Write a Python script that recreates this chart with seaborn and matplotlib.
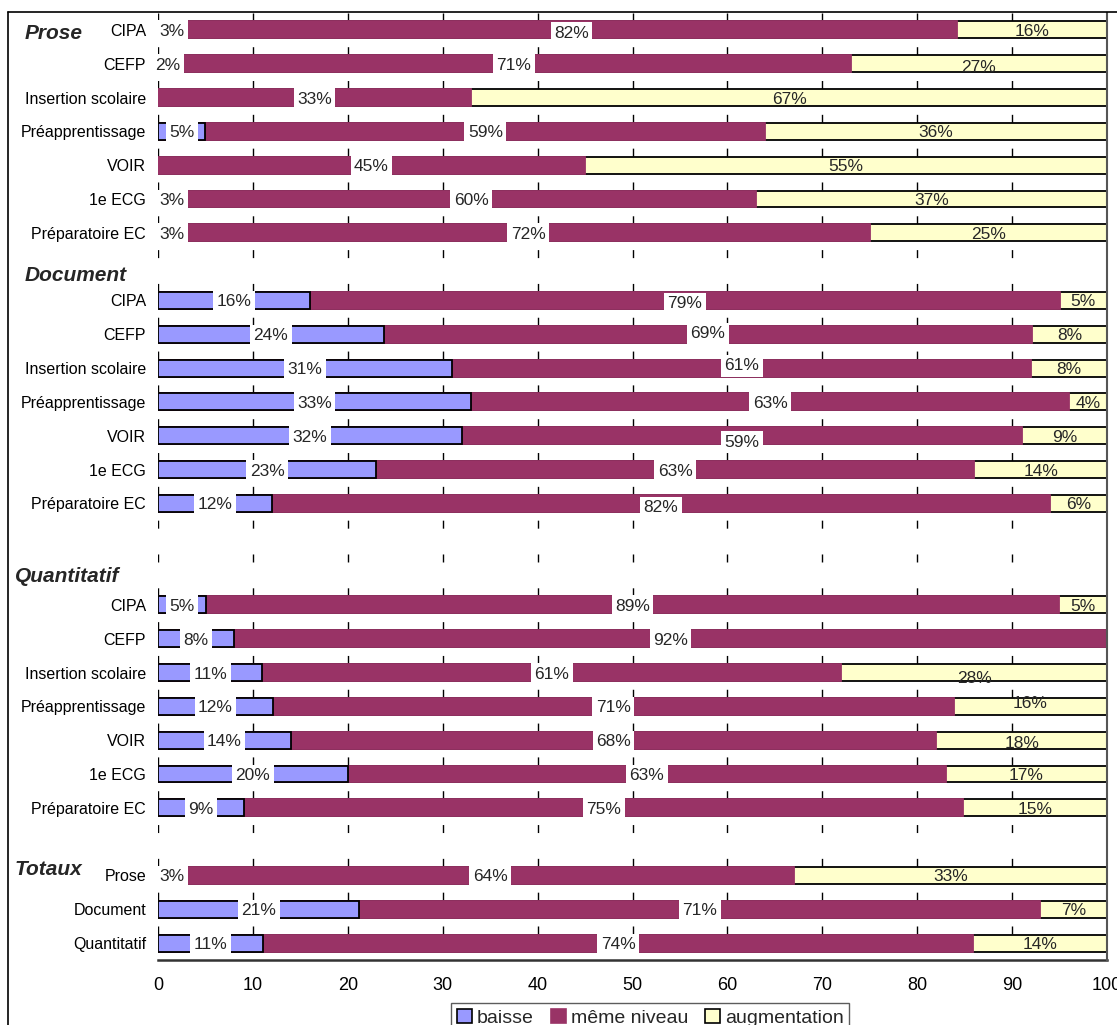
import numpy as np
import pandas as pd
import matplotlib
matplotlib.use("Agg")
import matplotlib.pyplot as plt
import matplotlib.transforms as mtransforms
from matplotlib.lines import Line2D
from matplotlib.patches import Patch
import seaborn as sns

# ---------------- data ----------------
groups = ["Prose", "Document", "Quantitatif", "Totaux"]
schools = ["CIPA", "CEFP", "Insertion scolaire", "Préapprentissage",
           "VOIR", "1e ECG", "Préparatoire EC"]
total_rows = ["Prose", "Document", "Quantitatif"]
series = ["baisse", "même niveau", "augmentation"]

prose_baisse = [3, 2, 0, 5, 0, 3, 3]
prose_meme = [82, 71, 33, 59, 45, 60, 72]
prose_augm = [16, 27, 67, 36, 55, 37, 25]

doc_baisse = [16, 24, 31, 33, 32, 23, 12]
doc_meme = [79, 69, 61, 63, 59, 63, 82]
doc_augm = [5, 8, 8, 4, 9, 14, 6]

quant_baisse = [5, 8, 11, 12, 14, 20, 9]
quant_meme = [89, 92, 61, 71, 68, 63, 75]
quant_augm = [5, 0, 28, 16, 18, 17, 15]

tot_baisse = [3, 21, 11]
tot_meme = [64, 71, 74]
tot_augm = [33, 7, 14]

x_ticks = [0, 10, 20, 30, 40, 50, 60, 70, 80, 90, 100]

# ---------------- styling ----------------
BLUE = "#9999FF"
PLUM = "#993366"
YELLOW = "#FFFFCC"
W, H = 1117, 1025

# small vertical nudges (pixels, positive = down) of some value labels
label_nudge = {
    ("Document|CIPA", "m"): 2, ("Document|CEFP", "m"): -2,
    ("Document|Insertion scolaire", "m"): -4, ("Document|VOIR", "m"): 5,
    ("Document|Préparatoire EC", "m"): 3,
    ("Quantitatif|Insertion scolaire", "a"): 4,
    ("Quantitatif|Préapprentissage", "a"): -4,
    ("Quantitatif|VOIR", "a"): 2, ("Prose|CEFP", "a"): 2,
    ("Prose|CIPA", "m"): 2,
}

sns.set_theme(style="white")
plt.rcParams["font.family"] = ["Liberation Sans", "DejaVu Sans"]

# build table (row order with empty gap slots between groups)
group_blocks = [
    ("Prose", schools, prose_baisse, prose_meme, prose_augm, 1),
    ("Document", schools, doc_baisse, doc_meme, doc_augm, 2),
    ("Quantitatif", schools, quant_baisse, quant_meme, quant_augm, 1),
    ("Totaux", total_rows, tot_baisse, tot_meme, tot_augm, 0),
]
rows = []
order = []
display = []
group_first_key = {}
for g, names, b, m, a, n_gap in group_blocks:
    for i, name in enumerate(names):
        key = f"{g}|{name}"
        if i == 0:
            group_first_key[g] = key
        order.append(key)
        display.append(name)
        rows.append(dict(key=key, group=g, name=name, b=b[i], m=m[i], a=a[i]))
    for k in range(n_gap):
        order.append(f"{g}|gap{k}")
        display.append("")
df = pd.DataFrame(rows)
tot = df[["b", "m", "a"]].sum(axis=1)
df["bn"] = df["b"] / tot * 100
df["mn"] = df["m"] / tot * 100
df["an"] = df["a"] / tot * 100
df["cum1"] = df["bn"]
df["cum2"] = df["bn"] + df["mn"]
df["cum3"] = df["bn"] + df["mn"] + df["an"]

fig = plt.figure(figsize=(W / 100, H / 100), dpi=100)
ax = fig.add_axes([158 / W, 1 - 960 / H, (1107 - 158) / W, (960 - 13) / H])

bar_w = 0.5
lw = 1.3
sns.barplot(data=df, y="key", x="cum3", order=order, orient="h", color=YELLOW,
            saturation=1, edgecolor="black", linewidth=lw, width=bar_w,
            errorbar=None, ax=ax, zorder=2)
sns.barplot(data=df, y="key", x="cum2", order=order, orient="h", color=PLUM,
            saturation=1, edgecolor=PLUM, linewidth=lw, width=bar_w,
            errorbar=None, ax=ax, zorder=3)
sns.barplot(data=df[df["b"] > 0], y="key", x="cum1", order=order, orient="h",
            color=BLUE, saturation=1, edgecolor="black", linewidth=lw,
            width=bar_w, errorbar=None, ax=ax, zorder=4)

ax.set_xlim(0, 100)
ax.set_ylim(len(order) - 0.5, -0.5)
ax.set_xlabel("")
ax.set_ylabel("")
ax.set_xticks(x_ticks)
ax.set_xticklabels([str(t) for t in x_ticks], fontsize=13)
ax.set_yticks(range(len(order)))
ax.set_yticklabels(display, fontsize=11.5)
ax.tick_params(axis="y", length=0, pad=8.6, colors="black")
ax.tick_params(axis="x", direction="inout", length=10, width=1,
               color="#333333", pad=7, labelcolor="black")

for s in ["left", "top"]:
    ax.spines[s].set_visible(False)
ax.spines["bottom"].set_color("#333333")
ax.spines["bottom"].set_linewidth(1.8)
ax.spines["right"].set_color("#555555")
ax.spines["right"].set_linewidth(1.5)
ax.spines["right"].set_zorder(6)

# dashed vertical gridlines
ax.set_axisbelow(True)
ax.xaxis.grid(True, color="black", linewidth=1.0,
              linestyle=(5.63, (5.76, 18.59)))
ax.yaxis.grid(False)

# value labels
pos = {k: i for i, k in enumerate(order)}
BASE_DOWN = 1.5


def lab(x, y, txt, key, part, boxed):
    dy = BASE_DOWN + label_nudge.get((key, part), 0)
    tr = mtransforms.offset_copy(ax.transData, fig=fig, x=0, y=-dy, units="dots")
    kw = dict(transform=tr, ha="center", va="center", fontsize=12.5,
              zorder=8, clip_on=False)
    if boxed:
        kw["bbox"] = dict(boxstyle="square,pad=0.2", fc="white", ec="none")
    ax.text(x, y, txt, **kw)


for _, r in df.iterrows():
    y = pos[r["key"]]
    if r["b"] > 0:
        lab(r["bn"] / 2, y, f"{r['b']}%", r["key"], "b", True)
    if r["m"] > 0:
        lab(r["bn"] + r["mn"] / 2, y, f"{r['m']}%", r["key"], "m", True)
    if r["a"] > 0:
        lab(r["bn"] + r["mn"] + r["an"] / 2, y, f"{r['a']}%", r["key"], "a",
            False)

# group headers
header_tr = mtransforms.blended_transform_factory(fig.transFigure, ax.transData)
header_style = {"Prose": (25, 0.12), "Document": (25, -0.75),
                "Quantitatif": (15, -0.83), "Totaux": (15, -0.18)}
for g in groups:
    xpx, dy = header_style[g]
    ax.text(xpx / W, pos[group_first_key[g]] + dy, g, transform=header_tr,
            ha="left", va="center", fontsize=15, fontweight="bold",
            fontstyle="italic", clip_on=False)

# outer chart frame
fig.add_artist(Line2D([8 / W, 8 / W], [0, 1 - 12 / H], transform=fig.transFigure,
                      color="black", lw=1.2))
fig.add_artist(Line2D([8 / W, 1], [1 - 12 / H, 1 - 12 / H],
                      transform=fig.transFigure, color="black", lw=1.2))

# legend
handles = [Patch(facecolor=BLUE, edgecolor="black", linewidth=1.2),
           Patch(facecolor=PLUM, edgecolor=PLUM, linewidth=1.2),
           Patch(facecolor=YELLOW, edgecolor="black", linewidth=1.2)]
leg = fig.legend(handles, series, loc="upper center",
                 bbox_to_anchor=(650.5 / W, 1 - 1003 / H), ncol=3,
                 frameon=True, fancybox=False, fontsize=14,
                 handlelength=0.75, handleheight=0.75, handletextpad=0.25,
                 columnspacing=0.9, borderpad=0.3, borderaxespad=0)
leg.get_frame().set_edgecolor("#333333")
leg.get_frame().set_linewidth(1.0)

fig.savefig("out.png", dpi=100)
